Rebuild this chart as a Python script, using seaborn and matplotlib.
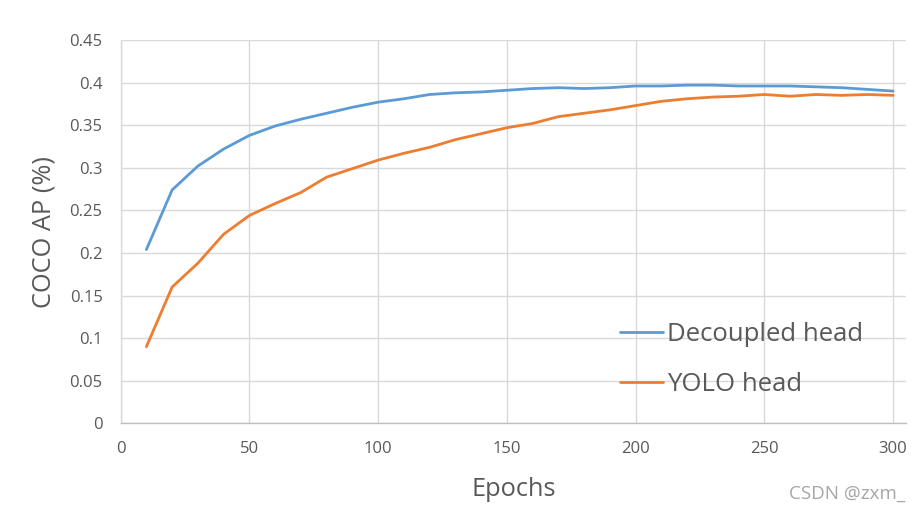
import numpy as np
import pandas as pd
import matplotlib
matplotlib.use("Agg")
import matplotlib.pyplot as plt
import seaborn as sns

epochs = list(range(10, 310, 10))
decoupled = [0.204, 0.274, 0.302, 0.322, 0.338, 0.349, 0.357, 0.364, 0.371, 0.377,
             0.381, 0.386, 0.388, 0.389, 0.391, 0.393, 0.394, 0.393, 0.394, 0.396,
             0.396, 0.397, 0.397, 0.396, 0.396, 0.396, 0.395, 0.394, 0.392, 0.390]
yolo = [0.090, 0.160, 0.188, 0.222, 0.244, 0.258, 0.271, 0.289, 0.299, 0.309,
        0.317, 0.324, 0.333, 0.340, 0.347, 0.352, 0.360, 0.364, 0.368, 0.373,
        0.378, 0.381, 0.383, 0.384, 0.386, 0.384, 0.386, 0.385, 0.386, 0.385]
series_names = ["Decoupled head", "YOLO head"]
colors = ["#5B9BD5", "#ED7D31"]
xtick_vals = [0, 50, 100, 150, 200, 250, 300]
ytick_vals = [0, 0.05, 0.1, 0.15, 0.2, 0.25, 0.3, 0.35, 0.4, 0.45]
ytick_labels = ["0", "0.05", "0.1", "0.15", "0.2", "0.25", "0.3", "0.35", "0.4", "0.45"]

df = pd.DataFrame({
    "Epochs": epochs * 2,
    "AP": decoupled + yolo,
    "Head": [series_names[0]] * len(epochs) + [series_names[1]] * len(epochs),
})

sns.set_theme(style="white")
plt.rcParams["font.family"] = ["Open Sans", "DejaVu Sans"]
text_color = "#595959"
grid_color = "#d9d9d9"

fig = plt.figure(figsize=(9.21, 5.12), dpi=100)
ax = fig.add_axes([0.131, 0.1732, 0.8527, 0.7487])

sns.lineplot(data=df, x="Epochs", y="AP", hue="Head", palette=colors,
             linewidth=2.0, ax=ax, legend=True)

ax.set_xlim(0, 305)
ax.set_ylim(0, 0.45)
ax.set_xticks(xtick_vals)
ax.set_xticklabels([str(v) for v in xtick_vals])
ax.set_yticks(ytick_vals)
ax.set_yticklabels(ytick_labels)
ax.grid(True, color=grid_color, linewidth=1.0)
ax.set_axisbelow(True)
for s in ["top", "right"]:
    ax.spines[s].set_visible(False)
ax.spines["left"].set_color(grid_color)
ax.spines["bottom"].set_color("#bfbfbf")
ax.spines["left"].set_linewidth(1.0)
ax.spines["bottom"].set_linewidth(1.0)
ax.tick_params(axis="both", length=0, labelsize=12, colors=text_color)
ax.tick_params(axis="y", pad=13)
ax.tick_params(axis="x", pad=13)

ax.set_xlabel("Epochs", fontsize=18.3, color=text_color, labelpad=14)
ax.set_ylabel("COCO AP (%)", fontsize=18.3, color=text_color, labelpad=9)

handles, labels = ax.get_legend_handles_labels()
leg = ax.legend(handles, labels, loc="center left", bbox_to_anchor=(0.636, 0.166),
                frameon=False, fontsize=18.5, handlelength=1.67, handletextpad=0.15,
                labelspacing=0.97, borderpad=0, borderaxespad=0, labelcolor=text_color)

fig.text(0.983, 0.036, "CSDN @zxm_", ha="right", va="center", fontsize=13.5, color="#a6a6a6")

fig.savefig("out.png", dpi=100)
